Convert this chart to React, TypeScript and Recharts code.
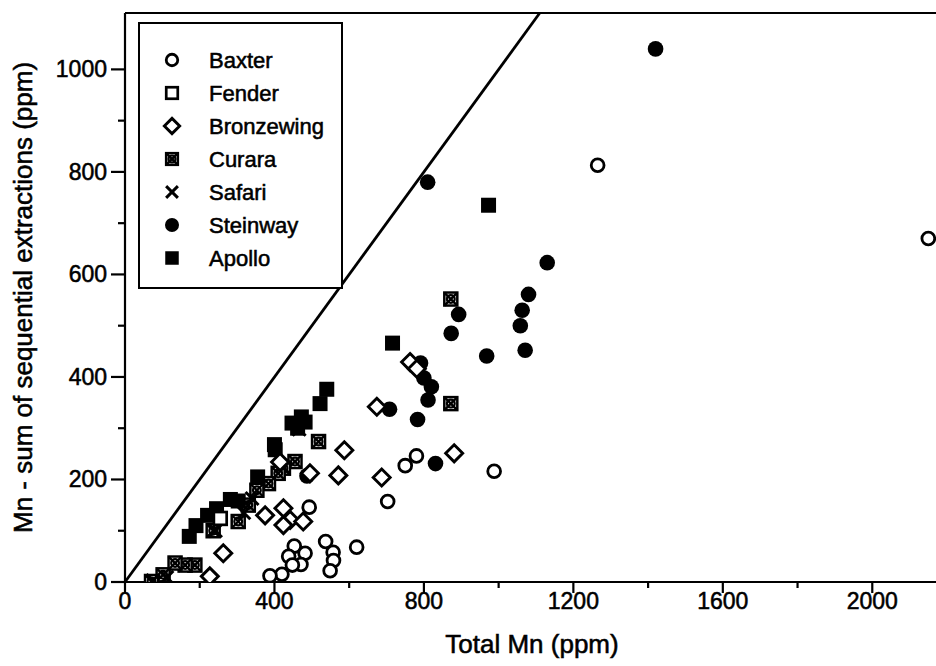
import React from "react";
import { ScatterChart, Scatter, XAxis, YAxis, ReferenceLine, Legend } from "recharts";

// ---- data (Total Mn, Mn - sum of sequential extractions), ppm ----
const BAXTER: [number, number][] = [
  [1265, 813], [2150, 670], [988, 216], [780, 246], [750, 227], [703, 157],
  [493, 146], [620, 68], [537, 79], [557, 58], [558, 42], [549, 22],
  [453, 70], [482, 56], [438, 50], [471, 34], [448, 33], [420, 15], [388, 12],
];
const FENDER: [number, number][] = [[255, 124]];
const BRONZEWING: [number, number][] = [
  [763, 429], [781, 416], [674, 342], [587, 257], [571, 208], [687, 204],
  [881, 251], [495, 212], [415, 234], [375, 130], [424, 144], [442, 121],
  [424, 111], [477, 118], [263, 56], [227, 11],
];
const CURARA: [number, number][] = [
  [872, 552], [872, 348], [518, 274], [455, 235], [424, 222], [410, 212],
  [384, 192], [353, 179], [330, 150], [303, 118], [236, 100], [187, 33],
  [161, 33], [134, 37], [102, 14], [71, 1],
];
const SAFARI: [number, number][] = [
  [75, 3], [112, 9], [242, 100], [318, 135], [340, 163], [420, 226], [466, 298],
];
const STEINWAY: [number, number][] = [
  [1420, 1040], [810, 780], [1130, 623], [1080, 561], [893, 522], [1063, 530],
  [1058, 500], [873, 485], [968, 441], [1071, 452], [791, 427], [800, 398],
  [820, 381], [811, 355], [708, 337], [783, 317], [831, 231], [487, 207],
];
const APOLLO: [number, number][] = [
  [973, 735], [716, 466], [540, 376], [522, 348], [472, 322], [447, 310],
  [462, 300], [482, 312], [400, 268], [402, 258], [355, 205], [303, 158],
  [282, 161], [245, 143], [221, 130], [190, 110], [172, 89],
];

const X_TICKS = [0, 200, 400, 600, 800, 1000, 1200, 1400, 1600, 1800, 2000];
const Y_TICKS = [0, 100, 200, 300, 400, 500, 600, 700, 800, 900, 1000];
const X_MAJOR = [0, 400, 800, 1200, 1600, 2000];
const Y_MAJOR = [0, 200, 400, 600, 800, 1000];
const ONE_TO_ONE: [number, number][] = [[0, 0], [1110, 1110]];

const X_TITLE = "Total Mn (ppm)";
const Y_TITLE = "Mn - sum of sequential extractions (ppm)";

type Kind = "baxter" | "fender" | "bronzewing" | "curara" | "safari" | "steinway" | "apollo";

const SERIES: { name: string; kind: Kind; pts: [number, number][] }[] = [
  { name: "Baxter", kind: "baxter", pts: BAXTER },
  { name: "Fender", kind: "fender", pts: FENDER },
  { name: "Bronzewing", kind: "bronzewing", pts: BRONZEWING },
  { name: "Curara", kind: "curara", pts: CURARA },
  { name: "Safari", kind: "safari", pts: SAFARI },
  { name: "Steinway", kind: "steinway", pts: STEINWAY },
  { name: "Apollo", kind: "apollo", pts: APOLLO },
];
// drawing order (later on top)
const DRAW_ORDER: Kind[] = ["steinway", "baxter", "curara", "safari", "apollo", "fender", "bronzewing"];

const FONT = "'Liberation Sans', Arial, Helvetica, sans-serif";
const INK = "#000";
const TXT = { fontFamily: FONT, fill: INK, stroke: INK, strokeWidth: 0.55 } as const;

function Marker({ kind, cx, cy, s = 1 }: { kind: Kind; cx: number; cy: number; s?: number }) {
  switch (kind) {
    case "baxter":
      return <circle cx={cx} cy={cy} r={6.4 * s} fill="#fff" stroke={INK} strokeWidth={2.8} />;
    case "fender": {
      const h = 6.4 * s;
      return <rect x={cx - h} y={cy - h} width={2 * h} height={2 * h} fill="#fff" stroke={INK} strokeWidth={2.7} />;
    }
    case "bronzewing": {
      const h = 8.5 * s;
      return (
        <polygon
          points={`${cx},${cy - h} ${cx + h},${cy} ${cx},${cy + h} ${cx - h},${cy}`}
          fill="#fff"
          stroke={INK}
          strokeWidth={2.9}
          strokeLinejoin="miter"
        />
      );
    }
    case "curara": {
      const h = 6.5 * s;
      return (
        <g>
          <rect x={cx - h} y={cy - h} width={2 * h} height={2 * h} fill="#fff" stroke={INK} strokeWidth={2.5} />
          <line x1={cx - h} y1={cy - h} x2={cx + h} y2={cy + h} stroke={INK} strokeWidth={2.4} />
          <line x1={cx - h} y1={cy + h} x2={cx + h} y2={cy - h} stroke={INK} strokeWidth={2.4} />
          <circle cx={cx} cy={cy} r={h * 0.6} fill="none" stroke={INK} strokeWidth={2.2} />
        </g>
      );
    }
    case "safari": {
      const h = 6.5 * s;
      return (
        <g>
          <line x1={cx - h} y1={cy - h} x2={cx + h} y2={cy + h} stroke={INK} strokeWidth={3} />
          <line x1={cx - h} y1={cy + h} x2={cx + h} y2={cy - h} stroke={INK} strokeWidth={3} />
        </g>
      );
    }
    case "steinway":
      return <circle cx={cx} cy={cy} r={7.8 * s} fill={INK} />;
    case "apollo": {
      const h = 7.5 * s;
      return <rect x={cx - h} y={cy - h} width={2 * h} height={2 * h} fill={INK} />;
    }
  }
  return null;
}

const XTick = (props: any) => {
  const { x, y, payload } = props;
  const v = payload.value as number;
  const major = X_MAJOR.includes(v);
  return (
    <g>
      <line x1={x} y1={y} x2={x} y2={y + (major ? 11 : 6)} stroke={INK} strokeWidth={2.2} />
      {major && (
        <text x={x} y={y + 27} textAnchor="middle" fontSize={23} {...TXT}>
          {v}
        </text>
      )}
    </g>
  );
};

const YTick = (props: any) => {
  const { x, y, payload } = props;
  const v = payload.value as number;
  const major = Y_MAJOR.includes(v);
  return (
    <g>
      <line x1={x} y1={y} x2={x - (major ? 14 : 7)} y2={y} stroke={INK} strokeWidth={2.2} />
      {major && (
        <text x={x - 18} y={y + 8} textAnchor="end" fontSize={23} {...TXT}>
          {v}
        </text>
      )}
    </g>
  );
};

const XTitle = (props: any) => {
  const vb = props.viewBox || {};
  const cx = vb.x + vb.width / 2;
  return (
    <text x={cx - 4} y={653} textAnchor="middle" fontSize={26} {...TXT}>
      {X_TITLE}
    </text>
  );
};

const YTitle = (props: any) => {
  const vb = props.viewBox || {};
  const cy = vb.y + vb.height / 2;
  const bx = 32;
  return (
    <text x={bx} y={cy} transform={`rotate(-90, ${bx}, ${cy})`} textAnchor="middle" fontSize={26} {...TXT}>
      {Y_TITLE}
    </text>
  );
};

const LegendBox = () => {
  const W = 205;
  const H = 267;
  return (
    <svg width={W} height={H} style={{ display: "block" }}>
      <rect x={1} y={1} width={W - 2} height={H - 2} fill="#fff" stroke={INK} strokeWidth={2} />
      {SERIES.map((s, i) => {
        const cy = 38 + i * 33;
        return (
          <g key={s.name}>
            <Marker kind={s.kind} cx={34} cy={cy} s={0.9} />
            <text x={71} y={cy + 8} fontSize={22} {...TXT}>
              {s.name}
            </text>
          </g>
        );
      })}
    </svg>
  );
};

export default function App() {
  const byKind = Object.fromEntries(SERIES.map((s) => [s.kind, s]));
  return (
    <div
      style={{
        position: "fixed",
        left: 0,
        top: 0,
        width: 936,
        height: 666,
        overflow: "hidden",
        background: "#fff",
      }}
    >
      <ScatterChart width={947} height={666} margin={{ top: 13, right: 0, bottom: 0, left: 0 }}>
        <XAxis
          type="number"
          dataKey="x"
          domain={[0, 2200]}
          ticks={X_TICKS}
          interval={0}
          tickSize={0}
          tickMargin={0}
          tick={XTick}
          axisLine={{ stroke: INK, strokeWidth: 2.2 }}
          height={84}
          allowDataOverflow
          label={{ content: XTitle }}
        />
        <YAxis
          type="number"
          dataKey="y"
          domain={[0, 1110]}
          ticks={Y_TICKS}
          interval={0}
          tickSize={0}
          tickMargin={0}
          tick={YTick}
          axisLine={{ stroke: INK, strokeWidth: 2.2 }}
          width={125}
          allowDataOverflow
          label={{ content: YTitle }}
        />
        <ReferenceLine y={1110} stroke={INK} strokeWidth={2.2} />
        <ReferenceLine
          segment={ONE_TO_ONE.map(([x, y]) => ({ x, y }))}
          stroke={INK}
          strokeWidth={2.8}
        />
        {DRAW_ORDER.map((k) => {
          const s = byKind[k];
          return (
            <Scatter
              key={s.name}
              name={s.name}
              data={s.pts.map(([x, y]) => ({ x, y }))}
              isAnimationActive={false}
              shape={(p: any) => <Marker kind={s.kind} cx={p.cx} cy={p.cy} />}
            />
          );
        })}
        <Legend
          layout="vertical"
          align="center"
          verticalAlign="middle"
          wrapperStyle={{ left: 138, top: 22, width: 205, height: 267 }}
          content={() => <LegendBox />}
        />
      </ScatterChart>
    </div>
  );
}
